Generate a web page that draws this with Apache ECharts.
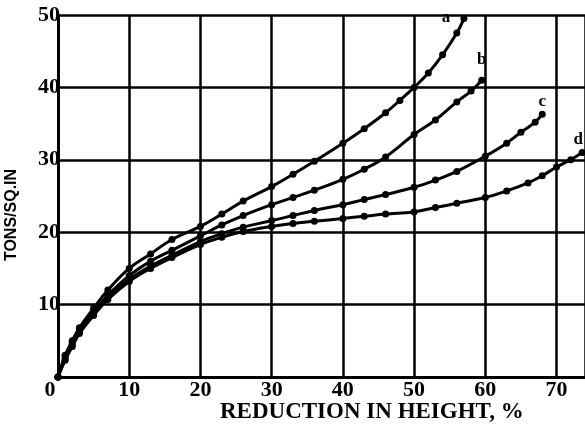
<!DOCTYPE html>
<html><head><meta charset="utf-8">
<script src="https://cdn.jsdelivr.net/npm/echarts@6/dist/echarts.min.js"></script>
<style>html,body{margin:0;padding:0;background:#fff}#c{width:585px;height:431px}</style>
</head><body><div id="c"></div>
<script>
const xTicks = [0,10,20,30,40,50,60,70];
const yTicks = [10,20,30,40,50];
const xA = [0,1,2,3,5,7,10,13,16,20,23,26,30,33,36,40,43,46,48,50,52,54,56,57];
const yA = [0,3,5,6.8,9.5,12,15,17,19,20.8,22.5,24.3,26.3,28,29.8,32.3,34.3,36.5,38.2,40,42,44.5,47.5,49.5];
const xB = [0,1,2,3,5,7,10,13,16,20,23,26,30,33,36,40,43,46,50,53,56,58,59.5];
const yB = [0,2.8,4.8,6.5,9,11.3,14,16,17.5,19.5,21,22.3,23.8,24.8,25.8,27.3,28.7,30.4,33.5,35.5,38,39.5,41];
const xC = [0,1,2,3,5,7,10,13,16,20,23,26,30,33,36,40,43,46,50,53,56,60,63,65,67,68];
const yC = [0,2.5,4.5,6.2,8.8,11,13.5,15.3,16.8,18.7,19.8,20.7,21.6,22.3,23,23.8,24.5,25.2,26.2,27.2,28.4,30.5,32.3,33.8,35.2,36.3];
const xD = [0,1,2,3,5,7,10,13,16,20,23,26,30,33,36,40,43,46,50,53,56,60,63,66,68,70,72,73.6];
const yD = [0,2.3,4.2,6,8.5,10.7,13.2,15,16.5,18.3,19.3,20.1,20.8,21.2,21.5,21.9,22.2,22.5,22.8,23.4,24.0,24.8,25.7,26.8,27.8,29,30,31];
const curveNames = ['a','b','c','d'];
const xTitle = 'REDUCTION IN HEIGHT, %';
const yTitle = 'TONS/SQ.IN';

const serif = '"Liberation Serif", "DejaVu Serif", serif';
function pairs(xs, ys){ return xs.map((x,i)=>[x, ys[i]]); }
const labelOffsets = [[-18,16],[0,-4],[0,4],[-4,4]];
function mkSeries(name, xs, ys, idx){
  const d = pairs(xs, ys);
  const last = d.length-1;
  const data = d.map((p,i)=> i===last ? {value:p, label:{show:true, formatter:name, position:'top', offset:labelOffsets[idx], fontFamily:serif, fontWeight:'bold', fontSize:17, color:'#000'}} : p);
  return {
    type:'line', name:name, data:data, smooth:0.4, showSymbol:true,
    symbol:'circle', symbolSize:7, clip:false,
    lineStyle:{color:'#000', width:3}, itemStyle:{color:'#000'},
    z:3
  };
}
const chart = echarts.init(document.getElementById('c'), null, {renderer:'canvas'});
chart.setOption({
  animation:false,
  backgroundColor:'#fff',
  grid:{left:58, right:0, top:15, bottom:54, containLabel:false, outerBoundsMode:'none'},
  title:{text:xTitle, left:220, top:401, padding:0, textStyle:{fontFamily:serif, fontWeight:'bold', fontSize:23, color:'#000'}},
  xAxis:{type:'value', min:0, max:74, interval:10,
    axisLine:{show:true, onZero:false, lineStyle:{color:'#000', width:3}},
    axisTick:{show:false},
    splitLine:{show:true, lineStyle:{color:'#000', width:2.5}},
    axisLabel:{showMaxLabel:false, margin:2, fontFamily:serif, fontWeight:'bold', fontSize:22, color:'#000',
      formatter:v=> xTicks.includes(v) ? (v===0 ? '{z|0}' : String(v)) : '',
      rich:{z:{fontFamily:serif, fontWeight:'bold', fontSize:22, color:'#000', padding:[0,16,0,0]}}}
  },
  yAxis:{type:'value', min:0, max:50, interval:10,
    name:yTitle, nameLocation:'middle', nameGap:38, nameRotate:90,
    nameTextStyle:{fontFamily:'"Liberation Sans", Arial, sans-serif', fontWeight:'bold', fontSize:16, color:'#000', padding:[0,38,0,0]},
    axisLine:{show:true, lineStyle:{color:'#000', width:3}},
    axisTick:{show:false},
    splitLine:{show:true, lineStyle:{color:'#000', width:2.5}},
    axisLabel:{margin:-2, fontFamily:serif, fontWeight:'bold', fontSize:22, color:'#000',
      formatter:v=> yTicks.includes(v) ? String(v) : ''}
  },
  series:[
    mkSeries(curveNames[0], xA, yA, 0),
    mkSeries(curveNames[1], xB, yB, 1),
    mkSeries(curveNames[2], xC, yC, 2),
    mkSeries(curveNames[3], xD, yD, 3)
  ]
});
</script></body></html>
